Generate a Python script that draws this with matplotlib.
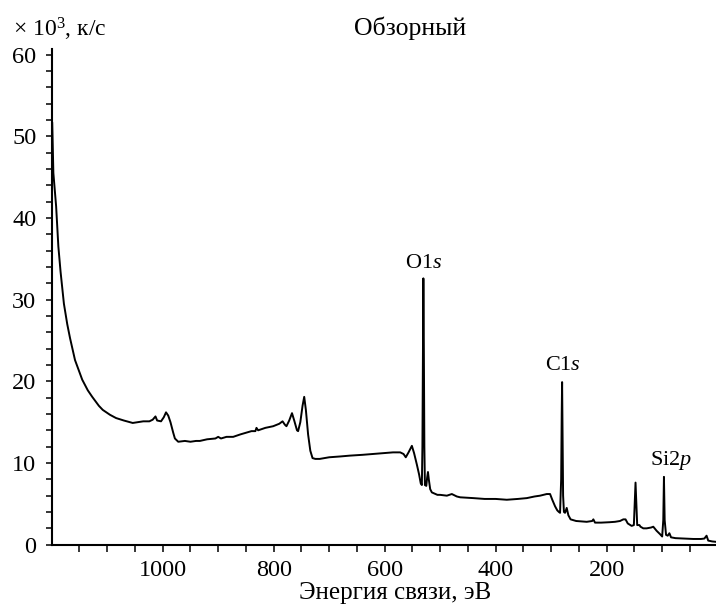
import matplotlib
matplotlib.use("Agg")
import matplotlib.pyplot as plt
from matplotlib.ticker import MultipleLocator, FixedLocator

plt.rcParams['font.family'] = ['Liberation Serif', 'DejaVu Serif']
plt.rcParams['mathtext.fontset'] = 'custom'
plt.rcParams['mathtext.rm'] = 'Liberation Serif'
plt.rcParams['mathtext.it'] = 'Liberation Serif:italic'

# Survey XPS spectrum: binding energy (eV) and counts (x10^3 c/s)
energy = [1199, 1197, 1192, 1188, 1184, 1178, 1172, 1167, 1158, 1145,
          1135, 1127, 1115, 1108, 1095, 1084, 1070, 1054, 1045, 1035,
          1024, 1018, 1013, 1010, 1003, 998, 994, 990, 986, 981,
          978, 972, 960, 950, 940, 933, 920, 905, 900, 895,
          885, 873, 860, 850, 840, 833, 831, 828, 815, 801,
          790, 784, 780, 777, 772, 767, 763, 758, 756, 752,
          748, 745, 742, 738, 734, 730, 725, 717, 700, 680,
          663, 640, 621, 600, 585, 572, 566, 562, 557, 551,
          547, 542, 538, 535, 533, 532, 531, 530.3, 529.5, 528.5,
          527.5, 525, 523.5, 522, 520.5, 518, 515, 505, 500, 488,
          479, 470, 464, 440, 420, 400, 380, 360, 344, 330,
          320, 308, 302, 298, 293, 289, 286, 284, 282, 281,
          280.3, 279.5, 278.5, 277, 275, 272, 269, 265, 255, 245,
          236, 226, 224, 221, 210, 195, 185, 176, 170, 166,
          162, 155, 151, 149.5, 148, 146.5, 145, 141, 139, 134,
          128, 120, 116, 110, 104, 100, 98, 96.8, 95.5, 93,
          90, 87, 84, 76, 60, 44, 30, 24, 20, 17,
          10, 3]
counts = [51.6, 45.5, 41.4, 36.5, 33.4, 29.5, 27.0, 25.3, 22.6, 20.2,
          18.9, 18.1, 17.0, 16.5, 15.9, 15.5, 15.2, 14.9, 15.0, 15.1,
          15.1, 15.3, 15.7, 15.2, 15.1, 15.6, 16.2, 15.8, 15.0, 13.7,
          13.0, 12.6, 12.7, 12.6, 12.7, 12.7, 12.9, 13.0, 13.2, 13.0,
          13.2, 13.2, 13.5, 13.7, 13.9, 13.9, 14.3, 14.0, 14.3, 14.5,
          14.8, 15.1, 14.7, 14.5, 15.2, 16.1, 15.2, 14.0, 13.9, 15.0,
          17.0, 18.1, 16.5, 13.5, 11.5, 10.6, 10.5, 10.5, 10.7, 10.8,
          10.9, 11.0, 11.1, 11.2, 11.3, 11.3, 11.1, 10.7, 11.3, 12.1,
          11.2, 9.8, 8.6, 7.5, 7.3, 12.0, 25.0, 32.6, 25.0, 12.0,
          7.3, 7.2, 8.2, 8.9, 8.0, 6.8, 6.4, 6.1, 6.1, 6.0,
          6.2, 5.9, 5.8, 5.7, 5.6, 5.6, 5.5, 5.6, 5.7, 5.9,
          6.0, 6.2, 6.2, 5.5, 4.7, 4.2, 4.0, 3.9, 8.0, 16.0,
          19.9, 14.0, 6.0, 4.0, 3.9, 4.5, 3.6, 3.1, 2.9, 2.85,
          2.8, 2.9, 3.1, 2.7, 2.7, 2.75, 2.8, 2.9, 3.1, 3.1,
          2.6, 2.3, 2.4, 5.0, 7.6, 5.0, 2.4, 2.4, 2.2, 2.0,
          2.0, 2.1, 2.2, 1.7, 1.3, 1.0, 3.0, 8.3, 3.0, 1.2,
          1.1, 1.4, 0.9, 0.8, 0.75, 0.7, 0.7, 0.75, 1.1, 0.5,
          0.4, 0.35]

x_labels = [1000, 800, 600, 400, 200]
peak_labels = ["O1$s$", "C1$s$", "Si2$p$"]
peak_pos = [530, 279, 84]
peak_height = [33.3, 20.8, 8.9]

fig = plt.figure(figsize=(7.16, 6.04), dpi=100)
ax = fig.add_axes([0.0722, 0.0982, 0.9278, 0.8202])

ax.plot(energy, counts, color='black', lw=1.4)

ax.set_xlim(1200, 3)
ax.set_ylim(0, 60.64)

ax.xaxis.set_major_locator(FixedLocator(x_labels))
ax.xaxis.set_minor_locator(FixedLocator(list(range(1150, 0, -50))))
ax.yaxis.set_major_locator(MultipleLocator(10))
ax.yaxis.set_minor_locator(MultipleLocator(2))

ax.spines['top'].set_visible(False)
ax.spines['right'].set_visible(False)
ax.spines['left'].set_linewidth(1.5)
ax.spines['bottom'].set_linewidth(1.5)

ax.tick_params(axis='x', which='both', direction='out', length=5, width=1.1,
               labelsize=17.5, pad=6)
ax.tick_params(axis='y', which='both', direction='out', length=4, width=1.1,
               labelsize=17.5, pad=7)

for lab, e, h in zip(peak_labels, peak_pos, peak_height):
    ax.text(e, h, lab, ha='center', va='bottom', fontsize=16)

fig.text(410 / 716, 1 - 28 / 604, "Обзорный", ha='center', va='center', fontsize=18.5)
fig.text(13 / 716, 1 - 29 / 604, "× 10$^3$, к/с", ha='left', va='center', fontsize=17)
fig.text(395 / 716, 1 - 593 / 604, "Энергия связи, эВ", ha='center', va='center',
         fontsize=18)

fig.savefig("out.png", dpi=100)
